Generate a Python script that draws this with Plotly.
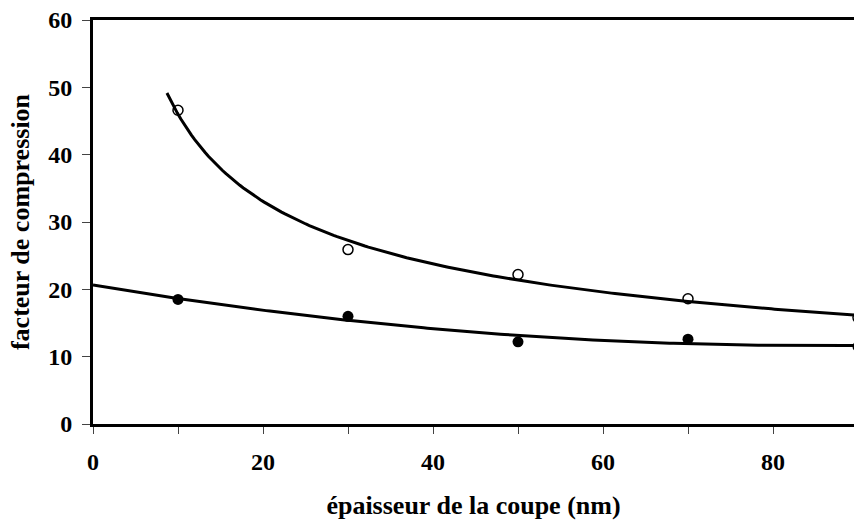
import numpy as np
import plotly.graph_objects as go

# data
thickness = [10, 30, 50, 70, 90]
open_vals = [46.6, 25.9, 22.2, 18.6, 15.8]
filled_vals = [18.5, 16.0, 12.2, 12.6, 11.5]
x_title = "épaisseur de la coupe (nm)"
y_title = "facteur de compression"

# power-law trend fitted to open points
xo = np.array(thickness, float)
b, lna = np.polyfit(np.log(xo), np.log(open_vals), 1)
xp = np.linspace(8.7, 90, 200)
yp = np.exp(lna) * xp ** b

# quadratic trend fitted to filled points
coef = np.polyfit(xo, filled_vals, 2)
xq = np.linspace(0, 90, 200)
yq = np.polyval(coef, xq)

FONT = "Liberation Serif"
fig = go.Figure()
fig.add_trace(go.Scatter(x=xp, y=yp, mode="lines", line=dict(color="black", width=3), hoverinfo="skip"))
fig.add_trace(go.Scatter(x=xq, y=yq, mode="lines", line=dict(color="black", width=3), hoverinfo="skip"))
fig.add_trace(go.Scatter(x=thickness, y=open_vals, mode="markers",
                         marker=dict(symbol="circle-open", size=10, color="black", line=dict(width=1.5, color="black"))))
fig.add_trace(go.Scatter(x=thickness, y=filled_vals, mode="markers",
                         marker=dict(symbol="circle", size=11, color="black")))

fig.update_layout(
    width=854, height=520,
    margin=dict(l=93, r=0, t=20, b=96),
    plot_bgcolor="white", paper_bgcolor="white",
    showlegend=False,
    font=dict(family=FONT, color="black"),
)
fig.update_xaxes(
    range=[0, 89.53], tickvals=[0, 20, 40, 60, 80], ticks="outside", ticklen=7, tickwidth=1,
    minor=dict(tickvals=[10, 30, 50, 70], ticks="outside", ticklen=7, tickwidth=1),
    showline=True, linewidth=3, linecolor="black", mirror=True, showgrid=False, zeroline=False,
    ticklabelstandoff=7,
    tickfont=dict(size=24, family=FONT, weight="bold"),
    title=dict(text=x_title, font=dict(size=26, family=FONT, weight="bold"), standoff=26),
)
fig.update_yaxes(
    range=[0, 60], dtick=10, ticks="outside", ticklen=8, tickwidth=1,
    showline=True, linewidth=3, linecolor="black", showgrid=False, zeroline=False,
    ticklabelstandoff=5,
    tickfont=dict(size=24, family=FONT, weight="bold"),
    title=dict(text=y_title, font=dict(size=26, family=FONT, weight="bold"), standoff=12),
)
fig.write_html("out.html")
